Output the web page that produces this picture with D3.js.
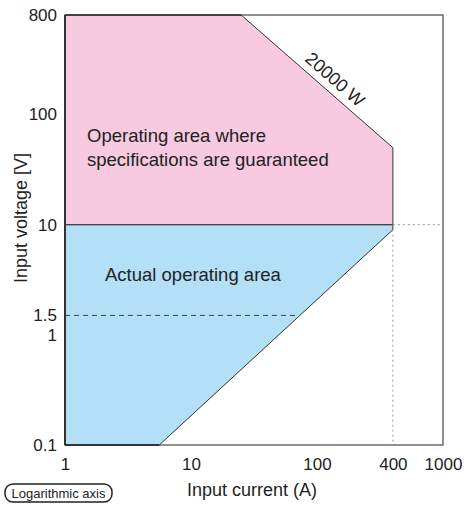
<!DOCTYPE html>
<html><head><meta charset="utf-8">
<script src="https://cdn.jsdelivr.net/npm/d3@7"></script>
<style>body{margin:0;background:#fff}svg{display:block;font-family:"Liberation Sans",Arial,sans-serif}</style>
</head><body>
<script>
const xTicks = [1, 10, 100, 400, 1000];
const yTicks = [0.1, 1, 1.5, 10, 100, 800];
const specArea = [[1, 800], [25, 800], [400, 50], [400, 10], [1, 10]];
const actualArea = [[1, 10], [400, 10], [400, 9], [5.6, 0.1], [1, 0.1]];
const powerLimit = [[25, 800], [400, 50]];
const refLines = {v15: [[1, 1.5], [73, 1.5]]};
const labels = {spec: ["Operating area where", "specifications are guaranteed"], actual: "Actual operating area", power: "20000 W"};

const W = 466, H = 505;
const svg = d3.select("body").append("svg").attr("width", W).attr("height", H);
const x = d3.scaleLog().domain([1, 1000]).range([65, 443]);
const y = d3.scaleLog().domain([0.1, 800]).range([445, 15]);
const line = d3.line().x(d => x(d[0])).y(d => y(d[1]));

svg.append("path").attr("d", line(specArea) + "Z").attr("fill", "#f7cadf").attr("stroke", "#333").attr("stroke-width", 1);
svg.append("path").attr("d", line(actualArea) + "Z").attr("fill", "#b3e0f7").attr("stroke", "#333").attr("stroke-width", 1);

// dashed reference lines
svg.append("path").attr("d", line(refLines.v15)).attr("stroke", "#444").attr("stroke-dasharray", "5,4").attr("fill", "none");
svg.append("path").attr("d", line([[400, 10], [1000, 10]])).attr("stroke", "#999").attr("stroke-dasharray", "2,3").attr("fill", "none");
svg.append("path").attr("d", line([[400, 10], [400, 0.1]])).attr("stroke", "#999").attr("stroke-dasharray", "2,3").attr("fill", "none");
svg.append("path").attr("d", line([[1, 10], [400, 10]])).attr("stroke", "#444").attr("stroke-width", 1.2).attr("fill", "none");

// frame
svg.append("rect").attr("x", 65).attr("y", 15).attr("width", 378).attr("height", 430).attr("fill", "none").attr("stroke", "#555").attr("stroke-width", 1.3);
svg.append("line").attr("x1", 65).attr("x2", 65).attr("y1", 15).attr("y2", 445).attr("stroke", "#333").attr("stroke-width", 2);
svg.append("line").attr("x1", 65).attr("x2", x(5.6)).attr("y1", 445).attr("y2", 445).attr("stroke", "#333").attr("stroke-width", 2);
svg.append("line").attr("x1", 65).attr("x2", x(25)).attr("y1", 15).attr("y2", 15).attr("stroke", "#333").attr("stroke-width", 1.6);

// axes (labels only)
const xAxis = d3.axisBottom(x).tickValues(xTicks).tickFormat(d3.format("d")).tickSize(0).tickPadding(0);
const gx = svg.append("g").attr("transform", "translate(0,445)").call(xAxis);
gx.selectAll("text").attr("dy", null).attr("y", 25);
const yAxis = d3.axisLeft(y).tickValues(yTicks).tickFormat(d => String(d)).tickSize(0).tickPadding(8);
const gy = svg.append("g").attr("transform", "translate(65,0)").call(yAxis);
[gx, gy].forEach(g => {
  g.select(".domain").remove();
  g.selectAll("text").attr("font-size", 17).attr("fill", "#222").attr("font-family", "Liberation Sans, Arial, sans-serif");
});

// titles
svg.append("text").attr("x", 252).attr("y", 496).attr("text-anchor", "middle").attr("font-size", 18).attr("fill", "#222").text("Input current (A)");
svg.append("text").attr("transform", "translate(27,218) rotate(-90)").attr("text-anchor", "middle").attr("font-size", 18).attr("fill", "#222").text("Input voltage [V]");

// region labels
svg.append("text").attr("x", 87).attr("y", 142).attr("font-size", 18.5).attr("fill", "#222").text(labels.spec[0]);
svg.append("text").attr("x", 87).attr("y", 166).attr("font-size", 18.5).attr("fill", "#222").text(labels.spec[1]);
svg.append("text").attr("x", 105).attr("y", 281).attr("font-size", 18.5).attr("fill", "#222").text(labels.actual);

const p0 = powerLimit[0], p1 = powerLimit[1];
const ang = Math.atan2(y(p1[1]) - y(p0[1]), x(p1[0]) - x(p0[0])) * 180 / Math.PI;
svg.append("text").attr("transform", `translate(331,84) rotate(${ang})`).attr("text-anchor", "middle").attr("font-size", 18).attr("fill", "#222").text(labels.power);

// logarithmic axis badge
svg.append("rect").attr("x", 5).attr("y", 484).attr("width", 107).attr("height", 18).attr("rx", 8).attr("fill", "#fff").attr("stroke", "#222").attr("stroke-width", 1.5);
svg.append("text").attr("x", 58.5).attr("y", 497.5).attr("text-anchor", "middle").attr("font-size", 13).attr("fill", "#222").text("Logarithmic axis");
</script>
</body></html>
